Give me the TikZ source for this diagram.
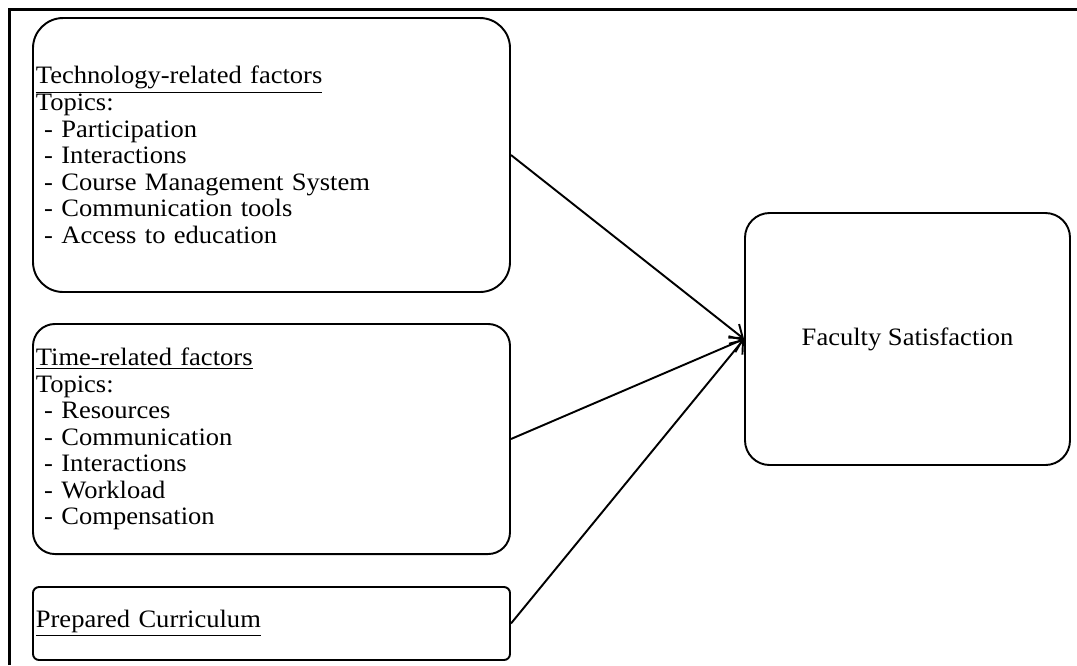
\documentclass[tikz,border=0pt]{standalone}
\usepackage{fontspec}
\setmainfont[FakeStretch=1.06]{Liberation Serif}
\usetikzlibrary{arrows.meta}

\tikzset{
  factor/.style={draw,line width=1pt,align=left,inner xsep=1.5pt,inner ysep=0pt,
    text width=8.705cm-3pt,font=\fontsize{13}{13.8}\selectfont},
  outcome/.style={draw,line width=1pt,rounded corners=0.45cm,align=center,
    minimum width=5.931cm,minimum height=4.599cm,font=\fontsize{13}{13.8}\selectfont},
  link/.style={line width=1pt,-{Straight Barb[length=6pt,width=9pt,line width=1pt]}}
}

\begin{document}
\begin{tikzpicture}[x=0.01825cm,y=-0.01825cm]
\useasboundingbox (0,0) rectangle (1077,665);
\draw[line width=1.2pt] (9.5,665) -- (9.5,9.5) -- (1077,9.5);

\node[factor,rounded corners=0.55cm,minimum height=5.0cm] (tech) at (271.5,155)
  {\underline{Technology-related factors}\\Topics:\\
   \ - Participation\\ \ - Interactions\\ \ - Course Management System\\
   \ - Communication tools\\ \ - Access to education};
\node[factor,rounded corners=0.4cm,minimum height=4.198cm] (time) at (271.5,439)
  {\underline{Time-related factors}\\Topics:\\
   \ - Resources\\ \ - Communication\\ \ - Interactions\\ \ - Workload\\ \ - Compensation};
\node[factor,rounded corners=0.11cm,minimum height=1.332cm] (curr) at (271.5,623.5)
  {\underline{Prepared Curriculum}};
\node[outcome] (sat) at (907.5,339) {Faculty Satisfaction};

\draw[link] (tech.east) -- (sat.west);
\draw[link] (time.east) -- (sat.west);
\draw[link] (curr.east) -- (sat.west);
\end{tikzpicture}
\end{document}
